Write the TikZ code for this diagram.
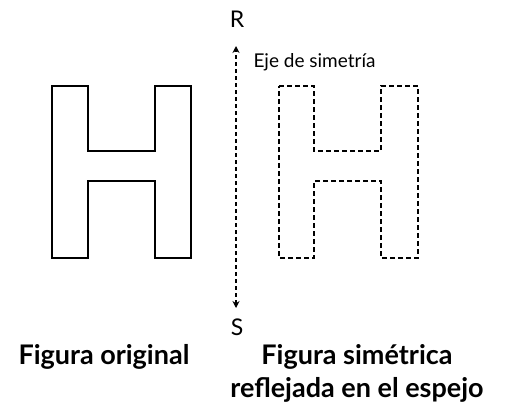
\documentclass[tikz,border=0pt]{standalone}
\usepackage{fontspec}
\setmainfont{Lato}
\usetikzlibrary{arrows.meta}

\begin{document}
\begin{tikzpicture}[x=1pt, y=-1pt,
    outline/.style={line width=2pt, line join=miter},
    mirrored/.style={outline, dash pattern=on 5pt off 3pt},
    axis/.style={line width=2pt, dash pattern=on 4pt off 3pt, {Stealth[length=7pt,width=7pt]}-{Stealth[length=7pt,width=7pt]}},
    caption/.style={font=\fontsize{27}{33}\selectfont\bfseries, align=center}]
  \useasboundingbox (0,0) rectangle (509,407);
  % original letter
  \draw[outline] (52,86) -- (88,86) -- (88,151) -- (155,151) -- (155,86) -- (191,86)
    -- (191,258) -- (155,258) -- (155,181) -- (88,181) -- (88,258) -- (52,258) -- cycle;
  % mirrored letter
  \draw[mirrored] (279,86) -- (314,86) -- (314,151) -- (381,151) -- (381,86) -- (418,86)
    -- (418,258) -- (381,258) -- (381,181) -- (314,181) -- (314,258) -- (279,258) -- cycle;
  % axis of symmetry
  \node[font=\fontsize{23}{26}\selectfont] (R) at (237,19) {R};
  \node[font=\fontsize{23}{26}\selectfont] (S) at (237,327) {S};
  \coordinate (top) at (236,46);
  \coordinate (bot) at (236,308);
  \draw[axis] (bot) -- (top);
  \node[font=\fontsize{19}{22}\selectfont, anchor=west] (eje) at (250,62) {Eje de simetría};
  % captions
  \node[caption] (orig) at (104,357) {Figura original};
  \node[caption] (refl) at (357,373) {Figura simétrica\\reflejada en el espejo};
\end{tikzpicture}
\end{document}
